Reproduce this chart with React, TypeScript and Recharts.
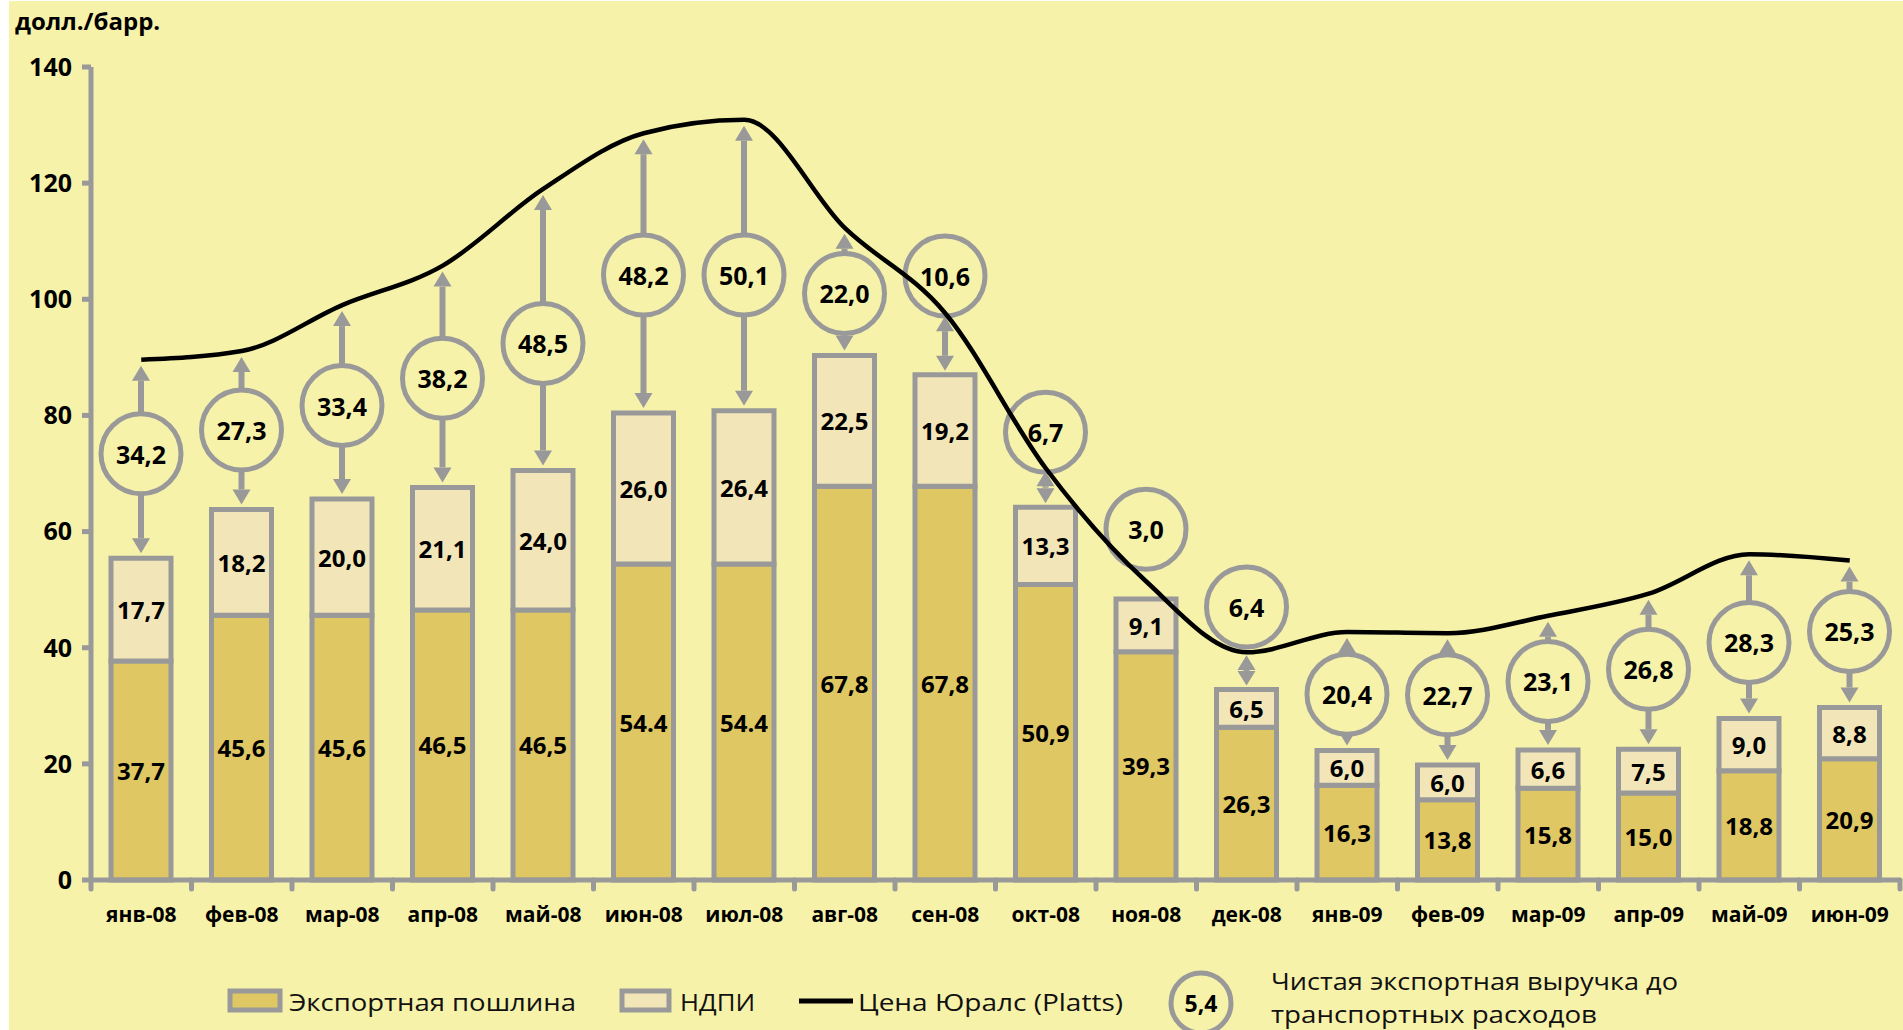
import React from "react";
import { ComposedChart, Bar, Line, XAxis, YAxis, LabelList } from "recharts";

const months = [
  "янв-08", "фев-08", "мар-08", "апр-08", "май-08", "июн-08", "июл-08", "авг-08", "сен-08",
  "окт-08", "ноя-08", "дек-08", "янв-09", "фев-09", "мар-09", "апр-09", "май-09", "июн-09",
];
const exportDuty = [37.7, 45.6, 45.6, 46.5, 46.5, 54.4, 54.4, 67.8, 67.8, 50.9, 39.3, 26.3, 16.3, 13.8, 15.8, 15.0, 18.8, 20.9];
const exportText = ["37,7", "45,6", "45,6", "46,5", "46,5", "54.4", "54.4", "67,8", "67,8", "50,9", "39,3", "26,3", "16,3", "13,8", "15,8", "15,0", "18,8", "20,9"];
const ndpi = [17.7, 18.2, 20.0, 21.1, 24.0, 26.0, 26.4, 22.5, 19.2, 13.3, 9.1, 6.5, 6.0, 6.0, 6.6, 7.5, 9.0, 8.8];
const netRevenue = [34.2, 27.3, 33.4, 38.2, 48.5, 48.2, 50.1, 22.0, 10.6, 6.7, 3.0, 6.4, 20.4, 22.7, 23.1, 26.8, 28.3, 25.3];
const uralsPrice = [89.6, 91.1, 99.0, 105.8, 119.0, 128.6, 130.9, 112.3, 97.6, 70.9, 51.4, 39.2, 42.7, 42.5, 45.5, 49.3, 56.1, 55.0];
// level (in $/bbl) where each net revenue bubble sits
const bubbleLevel = [73.4, 77.5, 81.7, 86.4, 92.4, 104.2, 104.2, 101, 104, 77.1, 60.4, 47, 32, 31.9, 34.2, 36.3, 40.9, 42.8];
const yTicks = [0, 20, 40, 60, 80, 100, 120, 140];

const BG = "#F7F2AA";
const DARK = "#DFC763";
const LIGHT = "#F2E6B8";
const GRAY = "#999999";
const FONT = "'Open Sans', 'DejaVu Sans', sans-serif";

const fmt = (v: number) => v.toFixed(1).replace(".", ",");

const data = months.map((m, i) => ({
  month: m,
  exportDuty: exportDuty[i],
  ndpi: ndpi[i],
  urals: uralsPrice[i],
  net: netRevenue[i],
  bubble: bubbleLevel[i],
  span: [exportDuty[i] + ndpi[i], uralsPrice[i]],
}));

const segLabel = (texts: string[]) => (p: any) => {
  const { x, y, width, height, index } = p;
  return (
    <text
      x={x + width / 2}
      y={y + height / 2}
      textAnchor="middle"
      dominantBaseline="central"
      fontSize={24}
      fontWeight={700}
      fontFamily={FONT}
      fill="#000"
    >
      {texts[index]}
    </text>
  );
};

function BubbleShape(props: any) {
  const { x, y, width, height, payload } = props;
  const top = payload.exportDuty + payload.ndpi;
  const ppu = height / (payload.urals - top);
  const cx = x + width / 2;
  const lineY = y;
  const barY = y + height;
  const cy = y + (payload.urals - payload.bubble) * ppu;
  const r = 40;

  const arrow = (fromY: number, tipY: number, key: string, head = 15) => {
    const dir = tipY > fromY ? 1 : -1;
    const baseY = tipY - dir * head;
    return (
      <g key={key}>
        <line x1={cx} x2={cx} y1={fromY} y2={baseY} stroke={GRAY} strokeWidth={6} />
        <polygon points={`${cx - 9},${baseY} ${cx + 9},${baseY} ${cx},${tipY}`} fill={GRAY} />
      </g>
    );
  };

  const arrows: any[] = [];
  if (payload.bubble > payload.urals) {
    const dist = barY - lineY;
    if (dist > 30) {
      const mid = (barY + lineY) / 2;
      const head = Math.min(15, dist / 2 - 4);
      arrows.push(arrow(mid, lineY + 3, "u", head));
      arrows.push(arrow(mid, barY - 4, "d", head));
    }
  } else {
    arrows.push(arrow(cy - r, lineY + 6, "u"));
    arrows.push(arrow(cy + r, barY - 5, "d"));
  }

  return (
    <g>
      {arrows}
      <circle cx={cx} cy={cy} r={r} fill={BG} stroke={GRAY} strokeWidth={5} />
      <text
        x={cx}
        y={cy}
        textAnchor="middle"
        dominantBaseline="central"
        fontSize={25}
        fontWeight={700}
        fontFamily={FONT}
        fill="#000"
      >
        {fmt(payload.net)}
      </text>
    </g>
  );
}

function MonthTick(props: any) {
  const { x, y, payload, index } = props;
  const half = payload && payload.offset ? payload.offset : 50.25;
  return (
    <g>
      <line x1={x - half} x2={x - half} y1={y} y2={y + 9} stroke={GRAY} strokeWidth={5} strokeLinecap="round" />
      {index === months.length - 1 && (
        <line x1={x + half} x2={x + half} y1={y} y2={y + 9} stroke={GRAY} strokeWidth={5} strokeLinecap="round" />
      )}
      <text x={x} y={y + 34} textAnchor="middle" dominantBaseline="central" fontSize={21} fontWeight={700} fontFamily={FONT} fill="#000">
        {payload.value}
      </text>
    </g>
  );
}

function LegendBlock() {
  const txt = { fontSize: 24, fontFamily: FONT, fill: "#111" } as const;
  return (
    <svg width={1894} height={69} style={{ position: "absolute", left: 0, top: 960 }}>
      <rect x={221} y={30} width={50} height={19} fill={DARK} stroke={GRAY} strokeWidth={5} />
      <text x={280} y={40} dominantBaseline="central" textLength={287} lengthAdjust="spacingAndGlyphs" {...txt}>
        Экспортная пошлина
      </text>
      <rect x={613} y={30} width={47} height={19} fill={LIGHT} stroke={GRAY} strokeWidth={5} />
      <text x={671} y={40} dominantBaseline="central" textLength={75} lengthAdjust="spacingAndGlyphs" {...txt}>
        НДПИ
      </text>
      <line x1={790} x2={844} y1={40} y2={40} stroke="#000" strokeWidth={5} />
      <text x={849} y={40} dominantBaseline="central" textLength={265} lengthAdjust="spacingAndGlyphs" {...txt}>
        Цена Юралс (Platts)
      </text>
      <circle cx={1192} cy={42} r={30} fill={BG} stroke={GRAY} strokeWidth={5} />
      <text x={1192} y={42} textAnchor="middle" dominantBaseline="central" fontSize={23} fontWeight={700} fontFamily={FONT} fill="#000">
        5,4
      </text>
      <text x={1262} y={19} dominantBaseline="central" textLength={407} lengthAdjust="spacingAndGlyphs" {...txt}>
        Чистая экспортная выручка до
      </text>
      <text x={1262} y={52} dominantBaseline="central" textLength={326} lengthAdjust="spacingAndGlyphs" {...txt}>
        транспортных расходов
      </text>
    </svg>
  );
}

export default function App() {
  return (
    <div
      style={{
        position: "absolute",
        left: 9,
        top: 1,
        width: 1894,
        height: 1029,
        background: BG,
        overflow: "hidden",
        fontFamily: FONT,
      }}
    >
      <div style={{ position: "absolute", left: 6, top: 8, fontSize: 24, fontWeight: 700, lineHeight: 1, color: "#000" }}>
        долл./барр.
      </div>
      <ComposedChart width={1894} height={1029} data={data} margin={{ top: 66, right: 3, left: 0, bottom: 90 }}>
        <XAxis
          dataKey="month"
          height={60}
          axisLine={{ stroke: GRAY, strokeWidth: 5 }}
          tickLine={false}
          tickSize={0}
          tickMargin={0}
          interval={0}
          tick={<MonthTick />}
        />
        <XAxis xAxisId="bubbles" dataKey="month" hide />
        <YAxis
          width={82}
          domain={[0, 140]}
          ticks={yTicks}
          axisLine={{ stroke: GRAY, strokeWidth: 5 }}
          tickLine={{ stroke: GRAY, strokeWidth: 5 }}
          tickSize={9}
          tickMargin={10}
          tick={{ fontSize: 25, fontWeight: 700, fill: "#000", fontFamily: FONT }}
        />
        <Bar dataKey="exportDuty" stackId="s" barSize={60} fill={DARK} stroke={GRAY} strokeWidth={5} isAnimationActive={false}>
          <LabelList dataKey="exportDuty" content={segLabel(exportText)} />
        </Bar>
        <Bar dataKey="ndpi" stackId="s" barSize={60} fill={LIGHT} stroke={GRAY} strokeWidth={5} isAnimationActive={false}>
          <LabelList dataKey="ndpi" content={segLabel(ndpi.map(fmt))} />
        </Bar>
        <Line
          dataKey="urals"
          type="monotone"
          stroke="#000"
          strokeWidth={4.5}
          dot={false}
          activeDot={false}
          isAnimationActive={false}
        />
        <Bar xAxisId="bubbles" dataKey="span" barSize={60} shape={<BubbleShape />} isAnimationActive={false} />
      </ComposedChart>
      <LegendBlock />
    </div>
  );
}
